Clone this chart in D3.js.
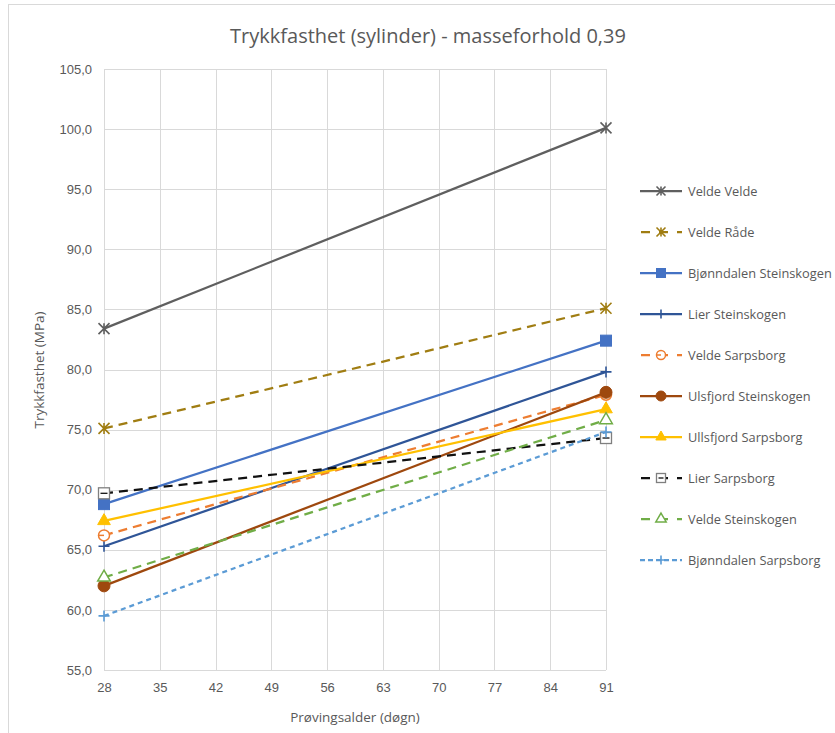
<!DOCTYPE html>
<html>
<head>
<meta charset="utf-8">
<script src="https://cdn.jsdelivr.net/npm/d3@7"></script>
<style>
  body { margin: 0; background: #fff; }
  svg { display: block; font-family: "Open Sans", Lato, sans-serif; }
</style>
</head>
<body>
<svg id="chart" width="835" height="733"></svg>
<script>
// Test ages (days)
const ages = [28, 91];
const xTicks = [28, 35, 42, 49, 56, 63, 70, 77, 84, 91];
const yTicks = [55, 60, 65, 70, 75, 80, 85, 90, 95, 100, 105];

// Compressive strength (MPa) per mix at 28 and 91 days
const seriesNames = [
  "Velde Velde", "Velde Råde", "Bjønndalen Steinskogen", "Lier Steinskogen",
  "Velde Sarpsborg", "Ulsfjord Steinskogen", "Ullsfjord Sarpsborg",
  "Lier Sarpsborg", "Velde Steinskogen", "Bjønndalen Sarpsborg"
];
const veldeVelde = [83.4, 100.1];
const veldeRade = [75.1, 85.1];
const bjonndalenSteinskogen = [68.8, 82.4];
const lierSteinskogen = [65.3, 79.8];
const veldeSarpsborg = [66.2, 77.9];
const ulsfjordSteinskogen = [62.0, 78.1];
const ullsfjordSarpsborg = [67.4, 76.7];
const lierSarpsborg = [69.7, 74.3];
const veldeSteinskogen = [62.7, 75.8];
const bjonndalenSarpsborg = [59.5, 74.8];

const seriesValues = [
  veldeVelde, veldeRade, bjonndalenSteinskogen, lierSteinskogen, veldeSarpsborg,
  ulsfjordSteinskogen, ullsfjordSarpsborg, lierSarpsborg, veldeSteinskogen, bjonndalenSarpsborg
];

// Visual style per series
const styles = [
  { color: "#5f5f5f", dash: null,  marker: "star" },
  { color: "#a07d12", dash: "9,6", marker: "star" },
  { color: "#4472c4", dash: null,  marker: "square" },
  { color: "#2f5597", dash: null,  marker: "plus" },
  { color: "#ed7d31", dash: "9,6", marker: "circleOpen" },
  { color: "#9e480e", dash: null,  marker: "circle" },
  { color: "#ffc000", dash: null,  marker: "triangle" },
  { color: "#111111", dash: "9,6", marker: "squareOpen" },
  { color: "#70ad47", dash: "9,6", marker: "triangleOpen" },
  { color: "#5b9bd5", dash: "5,4", marker: "plus" }
];

const svg = d3.select("#chart");
const W = 835, H = 733;
const plot = { left: 104, right: 606, top: 69, bottom: 670 };

// outer chart border
svg.append("rect")
  .attr("x", 8.5).attr("y", 4.5).attr("width", W + 10).attr("height", H + 10)
  .attr("fill", "none").attr("stroke", "#d9d9d9").attr("stroke-width", 1);

const x = d3.scaleLinear().domain([28, 91]).range([plot.left, plot.right]);
const y = d3.scaleLinear().domain([55, 105]).range([plot.bottom, plot.top]);

// gridlines
const grid = svg.append("g");
grid.selectAll("line.h").data(yTicks).join("line")
  .attr("x1", plot.left).attr("x2", plot.right)
  .attr("y1", d => Math.round(y(d)) + 0.5).attr("y2", d => Math.round(y(d)) + 0.5)
  .attr("stroke", "#d9d9d9").attr("stroke-width", 1);
grid.selectAll("line.v").data(xTicks).join("line")
  .attr("y1", plot.top).attr("y2", plot.bottom)
  .attr("x1", d => Math.round(x(d)) + 0.5).attr("x2", d => Math.round(x(d)) + 0.5)
  .attr("stroke", "#d9d9d9").attr("stroke-width", 1);

// axes
const yAxis = d3.axisLeft(y).tickValues(yTicks).tickSize(0).tickPadding(12)
  .tickFormat(d => d3.format(".1f")(d).replace(".", ","));
const gy = svg.append("g").attr("transform", `translate(${plot.left},0)`).call(yAxis);
gy.select(".domain").remove();
gy.selectAll("text").attr("fill", "#595959").style("font-size", "13px");

const xAxis = d3.axisBottom(x).tickValues(xTicks).tickSize(0).tickPadding(13);
const gx = svg.append("g").attr("transform", `translate(0,${plot.bottom})`).call(xAxis);
gx.select(".domain").remove();
gx.selectAll("text").attr("fill", "#595959").style("font-size", "13px");

// titles
svg.append("text").attr("x", 428).attr("y", 43).attr("text-anchor", "middle")
  .attr("fill", "#595959").style("font-size", "20px")
  .text("Trykkfasthet (sylinder) - masseforhold 0,39");
svg.append("text").attr("transform", "translate(44,370) rotate(-90)")
  .attr("text-anchor", "middle").attr("fill", "#595959").style("font-size", "13.5px")
  .text("Trykkfasthet (MPa)");
svg.append("text").attr("x", 355).attr("y", 722).attr("text-anchor", "middle")
  .attr("fill", "#595959").style("font-size", "13.5px")
  .text("Prøvingsalder (døgn)");

// marker drawing
function drawMarker(g, type, color, s) {
  switch (type) {
    case "star":
      g.append("path").attr("d", `M${-s},${-s}L${s},${s}M${-s},${s}L${s},${-s}M0,${-s}L0,${s}`)
        .attr("stroke", color).attr("stroke-width", 1.6).attr("fill", "none");
      break;
    case "plus":
      g.append("path").attr("d", `M${-s},0L${s},0M0,${-s}L0,${s}`)
        .attr("stroke", color).attr("stroke-width", 1.6).attr("fill", "none");
      break;
    case "square":
      g.append("rect").attr("x", -s).attr("y", -s).attr("width", 2 * s).attr("height", 2 * s)
        .attr("fill", color).attr("stroke", color);
      break;
    case "squareOpen":
      g.append("rect").attr("x", -s).attr("y", -s).attr("width", 2 * s).attr("height", 2 * s)
        .attr("fill", "#fff").attr("stroke", "#7f7f7f").attr("stroke-width", 1.3);
      g.append("line").attr("x1", -s + 2).attr("x2", s - 2).attr("y1", 0).attr("y2", 0)
        .attr("stroke", color).attr("stroke-width", 1.3);
      break;
    case "circle":
      g.append("circle").attr("r", s + 0.5).attr("fill", color).attr("stroke", color);
      break;
    case "circleOpen":
      g.append("circle").attr("r", s).attr("fill", "#fff").attr("stroke", color).attr("stroke-width", 1.5);
      g.append("line").attr("x1", -s).attr("x2", 0).attr("y1", 0).attr("y2", 0)
        .attr("stroke", color).attr("stroke-width", 1.5);
      break;
    case "triangle":
      g.append("path").attr("d", d3.symbol(d3.symbolTriangle, 2.3 * s * s)()).attr("fill", color).attr("stroke", color);
      break;
    case "triangleOpen":
      g.append("path").attr("d", d3.symbol(d3.symbolTriangle, 2.3 * s * s)()).attr("fill", "#fff")
        .attr("stroke", color).attr("stroke-width", 1.5);
      break;
  }
}

// series lines and markers
const line = d3.line().x((d, i) => x(ages[i])).y(d => y(d));
const seriesG = svg.append("g");
seriesValues.forEach((vals, k) => {
  const st = styles[k];
  seriesG.append("path").datum(vals).attr("d", line)
    .attr("fill", "none").attr("stroke", st.color).attr("stroke-width", 2.25)
    .attr("stroke-dasharray", st.dash);
  vals.forEach((v, i) => {
    const m = seriesG.append("g").attr("transform", `translate(${x(ages[i])},${y(v)})`);
    drawMarker(m, st.marker, st.color, 5.5);
  });
});

// legend
const legend = svg.append("g");
seriesNames.forEach((name, k) => {
  const st = styles[k];
  const ly = 191 + k * 41;
  const g = legend.append("g").attr("transform", `translate(640,${ly})`);
  g.append("line").attr("x1", 0).attr("x2", 42).attr("y1", 0).attr("y2", 0)
    .attr("stroke", st.color).attr("stroke-width", 2.25)
    .attr("stroke-dasharray", st.dash === "5,4" ? "5,3" : (st.dash ? "9,9" : null))
    .attr("stroke-dashoffset", st.dash && st.dash !== "5,4" ? -1 : 0);
  const m = g.append("g").attr("transform", "translate(21,0)");
  drawMarker(m, st.marker, st.color, 4.5);
  g.append("text").attr("x", 48).attr("y", 4.5).attr("fill", "#595959")
    .style("font-size", "12.8px").text(name);
});
</script>
</body>
</html>
